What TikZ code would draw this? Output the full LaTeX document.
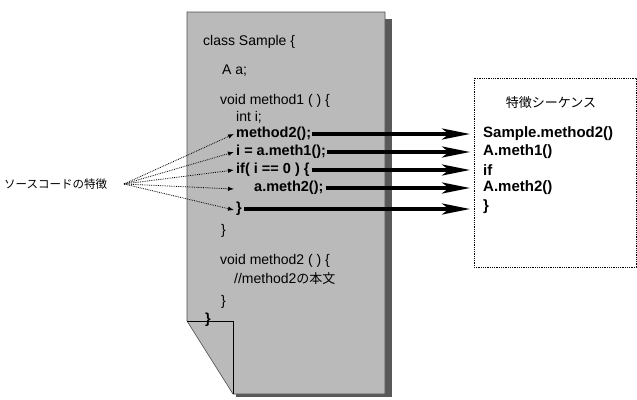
\documentclass[tikz,border=0pt]{standalone}
\usepackage{fontspec}
\setmainfont{Liberation Sans}
\newfontfamily\jpfont{Noto Sans CJK JP}
\usetikzlibrary{arrows.meta}
\begin{document}
\begin{tikzpicture}[x=1pt,y=-1pt,
  code/.style={anchor=west,inner sep=0pt,font=\fontsize{14}{16}\selectfont},
  bcode/.style={code,font=\fontsize{14.5}{16}\selectfont\bfseries},
  item/.style={anchor=west,inner sep=0pt,font=\fontsize{15}{17}\selectfont\bfseries},
  fat/.style={line width=3.2pt,-{Stealth[length=28pt,width=11pt,inset=7pt]}},
  thin/.style={densely dotted,line width=0.8pt,-{Latex[length=6pt,width=4.5pt]}},
  pagefill/.style={fill=black!27},
  shadow/.style={fill=black!65}]
\useasboundingbox (0,0) rectangle (637,399);
% shadow
\fill[shadow] (385,19) rectangle (392,397);
\fill[shadow] (236,394) rectangle (392,397);
% page
\path[pagefill,draw=black!70,line width=0.6pt] (187,12) -- (385,12) -- (385,394) -- (233,394) -- (187,321) -- cycle;
\draw[black,line width=0.6pt] (187,321) -- (233,321) -- (233,394);
% code
\node[code] (c0) at (203,42) {class Sample \{};
\node[code] (ca) at (222,71) {A a;};
\node[code] (cm1) at (220,101) {void method1 ( ) \{};
\node[code] (ci) at (236,117) {int i;};
\node[bcode] (c1) at (236,134) {method2();};
\node[bcode] (c2) at (236,152) {i = a.meth1();};
\node[bcode] (c3) at (236,170) {if( i == 0 ) \{};
\node[bcode] (c4) at (254,188) {a.meth2();};
\node[bcode] (c5) at (236,209) {\}};
\node[code] (c6) at (221,231) {\}};
\node[code] (cm2) at (220,261) {void method2 ( ) \{};
\node[code] (cb) at (234,279) {//method2{\jpfont\fontsize{13}{15}\selectfont の本文}};
\node[code] (c7) at (221,302) {\}};
\node[bcode] (c8) at (205,320) {\}};
% source label
\node[anchor=west,inner sep=0pt,font=\jpfont\fontsize{11.5}{13}\selectfont] (src) at (4,184) {ソースコードの特徴};
\coordinate (s) at (124,184);
\coordinate (e1) at (234,134);
\coordinate (e2) at (234,152);
\coordinate (e3) at (234,170);
\coordinate (e4) at (234,189);
\coordinate (e5) at (234,210);
\foreach \e in {e1,e2,e3,e4,e5} \draw[thin] (s) -- (\e);
% right box
\draw[densely dotted,line width=0.8pt] (474,78) rectangle (636,267);
\node[font=\jpfont\fontsize{13}{15}\selectfont,inner sep=0pt] (title) at (551,103) {特徴シーケンス};
\node[item] (r1) at (483,134) {Sample.method2()};
\node[item] (r2) at (483,152) {A.meth1()};
\node[item] (r3) at (483,170) {if};
\node[item] (r4) at (483,188) {A.meth2()};
\node[item] (r5) at (483,207) {\}};
% thick arrows
\draw[fat] (c1.east) ++(1,0) -- (470,134);
\draw[fat] (c2.east) ++(1,0) -- (470,152);
\draw[fat] (c3.east) ++(2,0) -- (470,170);
\draw[fat] (c4.east) ++(2,0) -- (470,188);
\draw[fat] (c5.east) ++(2,0) -- (470,209);
\end{tikzpicture}
\end{document}
